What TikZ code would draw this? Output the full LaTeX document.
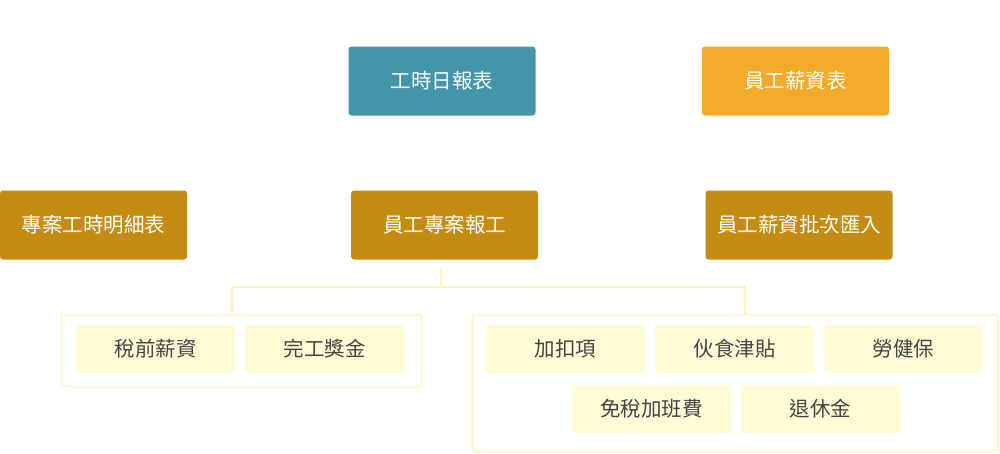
\documentclass[tikz,border=0pt]{standalone}
\usepackage{fontspec}
\newfontfamily\cjk{Noto Sans CJK TC}
\definecolor{teal}{HTML}{4395AA}
\definecolor{orange}{HTML}{F4AA2A}
\definecolor{gold}{HTML}{C58C14}
\definecolor{pale}{HTML}{FFFCD6}
\definecolor{rim}{HTML}{FFF5C2}
\definecolor{ink}{HTML}{454545}

\begin{document}
\begin{tikzpicture}
  [x=1pt,y=-1pt,every node/.style={rounded corners=3pt,inner sep=0pt,font=\cjk\fontsize{20.5}{20.5}\selectfont},
   head/.style={text=white,minimum width=187pt,minimum height=69pt},
   item/.style={fill=pale,text=ink,minimum width=159pt,minimum height=48pt},
   group/.style={draw=rim,line width=1.5pt},
   link/.style={draw=rim,line width=1.5pt}]
  \useasboundingbox (0,0) rectangle (1000,453);

  \node[head,fill=teal] (daily) at (442,81) {工時日報表};
  \node[head,fill=orange] (salary) at (795.5,81) {員工薪資表};

  \node[head,fill=gold] (detail) at (93.5,225) {專案工時明細表};
  \node[head,fill=gold] (report) at (444.5,225) {員工專案報工};
  \node[head,fill=gold] (import) at (799,225) {員工薪資批次匯入};

  \node[group,minimum width=360pt,minimum height=72pt] (leftgrp) at (241.5,350.5) {};
  \node[group,minimum width=526pt,minimum height=137pt] (rightgrp) at (735,383) {};

  \node[item] (pretax) at (155.5,349) {稅前薪資};
  \node[item] (bonus) at (324.5,349) {完工獎金};

  \node[item] (deduct) at (565.5,349) {加扣項};
  \node[item] (meal) at (734.5,349) {伙食津貼};
  \node[item] (insur) at (903.5,349) {勞健保};
  \node[item] (overtime) at (651.5,409) {免稅加班費};
  \node[item] (pension) at (820.5,409) {退休金};

  \coordinate (fork) at (441,268);
  \coordinate (bus) at (441,287);
  \draw[link] (fork) -- (bus);
  \draw[link] (bus) -| ([xshift=-9.5pt]leftgrp.north);
  \draw[link] (bus) -| ([xshift=10pt]rightgrp.north);

\end{tikzpicture}
\end{document}
